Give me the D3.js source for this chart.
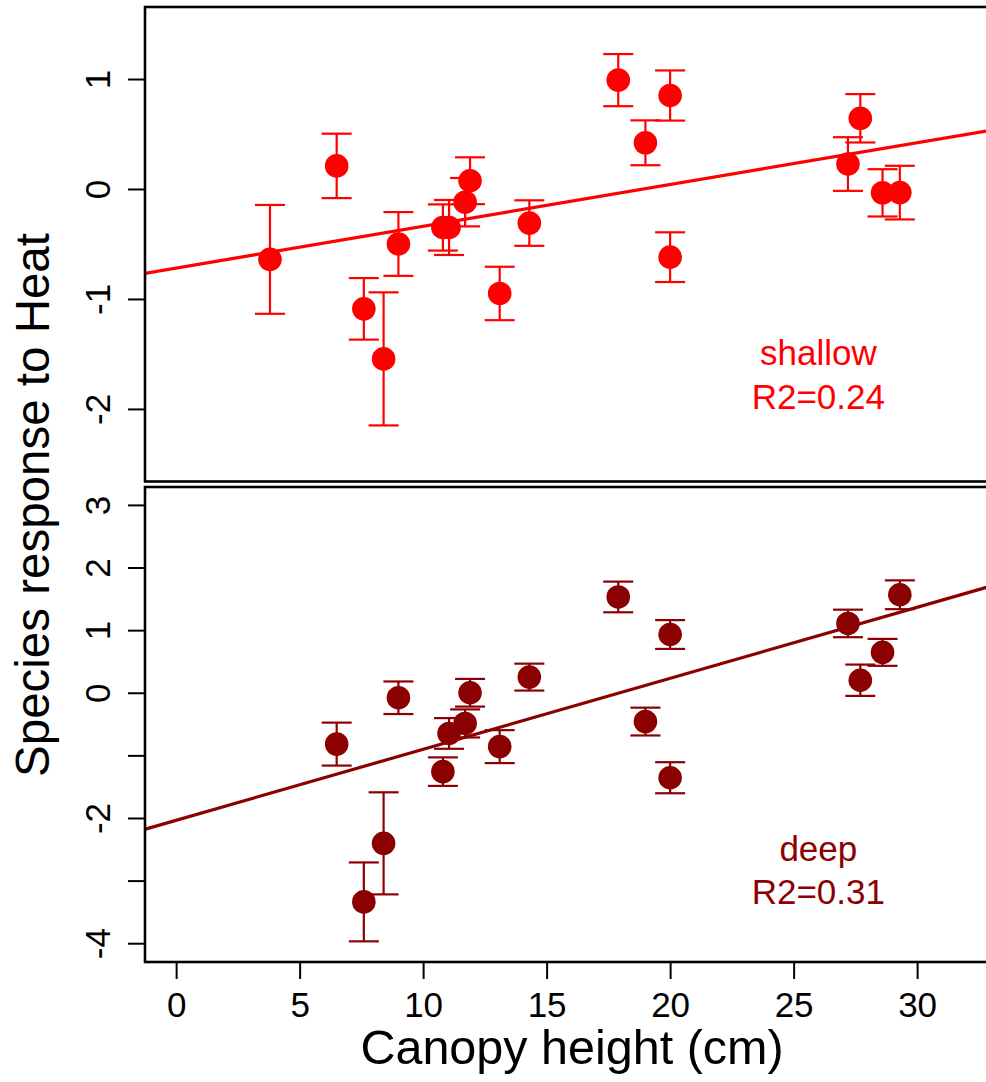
<!DOCTYPE html>
<html>
<head>
<meta charset="utf-8">
<script src="https://cdn.jsdelivr.net/npm/d3@7"></script>
<style>
  body { margin: 0; background: #fff; }
  svg { display: block; font-family: "Liberation Sans", Arial, sans-serif; }
</style>
</head>
<body>
<svg id="chartsvg" width="986" height="1082"></svg>
<script>
var vis = d3.select("#chartsvg");

// canopy height of each species (cm)
let heights = [3.8, 6.5, 7.6, 8.4, 9.0, 10.8, 11.05, 11.7, 11.9, 13.1, 14.3, 17.9, 19.0, 20.0, 20.0, 27.2, 27.7, 28.6, 29.3];

// shallow: mean response and standard error
let shallowMean = [-0.64, 0.21, -1.09, -1.545, -0.50, -0.35, -0.35, -0.12, 0.075, -0.95, -0.31, 0.99, 0.42, 0.85, -0.62, 0.227, 0.643, -0.035, -0.033];
let shallowSE = [0.495, 0.293, 0.28, 0.605, 0.29, 0.21, 0.25, 0.22, 0.213, 0.243, 0.207, 0.237, 0.204, 0.228, 0.226, 0.244, 0.22, 0.215, 0.244];

// deep: mean response and standard error (no value for the first species)
let deepMean = [null, -0.82, -3.34, -2.405, -0.08, -1.26, -0.65, -0.49, 0.0, -0.86, 0.25, 1.53, -0.46, 0.93, -1.357, 1.107, 0.2, 0.645, 1.565];
let deepSE = [null, 0.343, 0.63, 0.815, 0.26, 0.228, 0.245, 0.224, 0.221, 0.263, 0.215, 0.245, 0.222, 0.23, 0.248, 0.22, 0.25, 0.215, 0.23];

// fitted lines: intercept, slope
let shallowFit = [-0.719, 0.038];
let deepFit = [-2.037, 0.1134];

let xTicks = [0, 5, 10, 15, 20, 25, 30];
let shallowTicks = [-2, -1, 0, 1];
let deepTicks = [-4, -3, -2, -1, 0, 1, 2, 3];
let deepTickLabels = ["-4", "", "-2", "", "0", "1", "2", "3"];

const left = 145, right = 1000;

var x = d3.scaleLinear().domain([-1.26, 32.86]).range([left, left + (32.86 + 1.26) * 24.7]);

var panels = [
    { name: "shallow", r2: "R2=0.24", color: "#ff0000", mean: shallowMean, se: shallowSE, fit: shallowFit,
      top: 7, bottom: 481.5, domain: [-2.66, 1.655], ticks: shallowTicks, labels: shallowTicks.map(String),
      textY: [-1.6, -2.0] },
    { name: "deep", r2: "R2=0.31", color: "#8b0000", mean: deepMean, se: deepSE, fit: deepFit,
      top: 487, bottom: 962, domain: [-4.3, 3.286], ticks: deepTicks, labels: deepTickLabels,
      textY: [-2.68, -3.38] }
];

panels.forEach((p, pi) => {
    var y = d3.scaleLinear().domain(p.domain).range([p.bottom, p.top]);
    var g = vis.append("g");

    g.append("clipPath").attr("id", "clip" + pi)
        .append("rect")
        .attr("x", left).attr("y", p.top)
        .attr("width", right - left).attr("height", p.bottom - p.top);

    // regression line
    g.append("line")
        .attr("clip-path", "url(#clip" + pi + ")")
        .attr("x1", x(-2)).attr("x2", x(35))
        .attr("y1", y(p.fit[0] + p.fit[1] * -2))
        .attr("y2", y(p.fit[0] + p.fit[1] * 35))
        .attr("stroke", p.color).attr("stroke-width", 3.2);

    var pts = heights.map((h, i) => ({ h: h, m: p.mean[i], s: p.se[i] }))
        .filter(d => d.m !== null);

    // error bars
    var eb = g.selectAll(".eb").data(pts).enter().append("g")
        .attr("stroke", p.color).attr("stroke-width", 2.2);
    eb.append("line")
        .attr("x1", d => x(d.h)).attr("x2", d => x(d.h))
        .attr("y1", d => y(d.m + d.s)).attr("y2", d => y(d.m - d.s));
    eb.append("line")
        .attr("x1", d => x(d.h) - 15).attr("x2", d => x(d.h) + 15)
        .attr("y1", d => y(d.m + d.s)).attr("y2", d => y(d.m + d.s));
    eb.append("line")
        .attr("x1", d => x(d.h) - 15).attr("x2", d => x(d.h) + 15)
        .attr("y1", d => y(d.m - d.s)).attr("y2", d => y(d.m - d.s));

    // points
    g.selectAll("circle").data(pts).enter().append("circle")
        .attr("cx", d => x(d.h)).attr("cy", d => y(d.m))
        .attr("r", 11.8).attr("fill", p.color);

    // label
    var t = g.append("text")
        .attr("text-anchor", "middle")
        .attr("fill", p.color)
        .attr("font-size", 35);
    t.append("tspan").attr("x", x(26)).attr("y", y(p.textY[0])).text(p.name);
    t.append("tspan").attr("x", x(26)).attr("y", y(p.textY[1])).text(p.r2);

    // y axis
    var yAxis = d3.axisLeft(y).tickValues(p.ticks)
        .tickFormat((d, i) => p.labels[i]).tickSize(17);
    var ya = g.append("g").attr("transform", "translate(" + left + ",0)").call(yAxis);
    ya.select(".domain").remove();
    ya.selectAll("line").attr("stroke", "#000").attr("stroke-width", 2);
    ya.selectAll("text")
        .attr("x", null).attr("dy", null)
        .attr("transform", "translate(-35,0) rotate(-90)")
        .attr("text-anchor", "middle")
        .attr("font-size", 35).attr("font-family", null).attr("fill", "#000");

    // x axis on the bottom panel only
    if (pi == 1) {
        var xa = g.append("g").attr("transform", "translate(0," + p.bottom + ")")
            .call(d3.axisBottom(x).tickValues(xTicks).tickSize(17).tickPadding(13));
        xa.select(".domain").remove();
        xa.selectAll("line").attr("stroke", "#000").attr("stroke-width", 2);
        xa.selectAll("text").attr("font-size", 35).attr("font-family", null).attr("fill", "#000");
    }

    // frame
    g.append("rect")
        .attr("x", left).attr("y", p.top)
        .attr("width", right - left).attr("height", p.bottom - p.top)
        .attr("fill", "none").attr("stroke", "#000").attr("stroke-width", 2.6);
});

vis.append("text")
    .attr("x", 572).attr("y", 1064)
    .attr("text-anchor", "middle").attr("font-size", 48.5)
    .text("Canopy height (cm)");

vis.append("text")
    .attr("transform", "translate(49,505) rotate(-90)")
    .attr("text-anchor", "middle").attr("font-size", 47.5)
    .text("Species response to Heat");
</script>
</body>
</html>
